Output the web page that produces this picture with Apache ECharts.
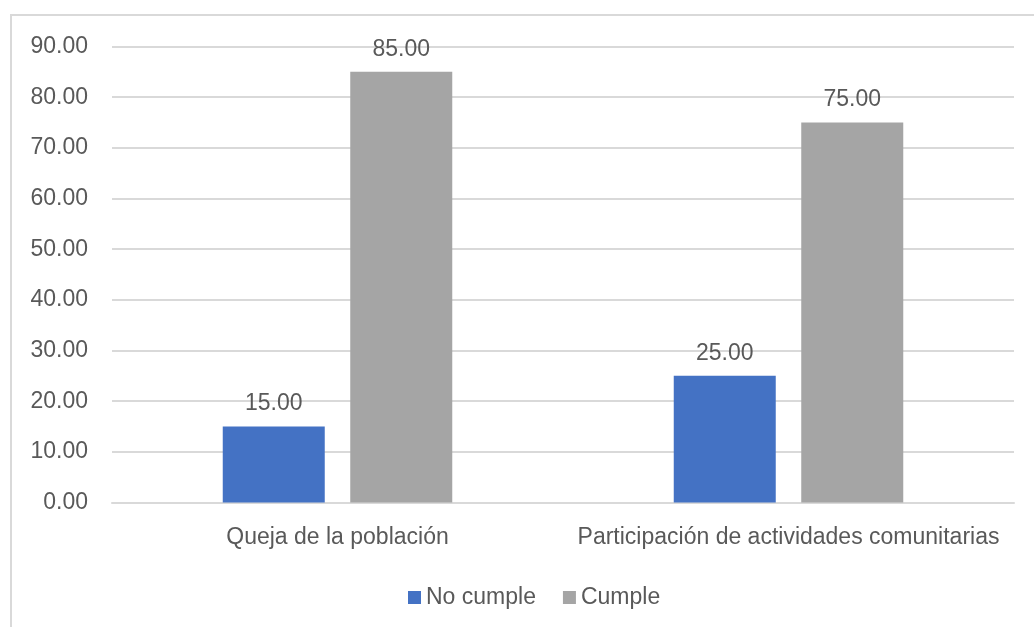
<!DOCTYPE html>
<html><head><meta charset="utf-8">
<script src="https://cdn.jsdelivr.net/npm/echarts@6/dist/echarts.min.js"></script>
<style>html,body{margin:0;padding:0;background:#fff}#c{width:1034px;height:627px}</style>
</head><body><div id="c"></div>
<script>
const categories = ["Queja de la población", "Participación de actividades comunitarias"];
const seriesNames = ["No cumple", "Cumple"];
const noCumple = [15, 25];
const cumple = [85, 75];
const yTicks = [0, 10, 20, 30, 40, 50, 60, 70, 80, 90];

const FONT = "Liberation Sans";
const TXT = "#595959";
const FS = 23;
const chart = echarts.init(document.getElementById('c'), null, {renderer: 'canvas'});
const labelCfg = {show: true, position: 'top', distance: 11, color: TXT, fontSize: FS, fontFamily: FONT,
  formatter: p => p.value.toFixed(2)};
chart.setOption({
  animation: false,
  graphic: [{type: 'rect', shape: {x: 11, y: 15, width: 1100, height: 700},
    style: {fill: 'none', stroke: '#D9D9D9', lineWidth: 2}, z: -1}],
  grid: {left: 112, right: 20, top: 46.5, height: 456, containLabel: false},
  legend: {data: seriesNames, left: 403, top: 581, itemWidth: 13, itemHeight: 13, itemGap: 27,
    icon: 'rect', textStyle: {color: TXT, fontSize: FS, fontFamily: FONT, padding: [0,0,0,0]}},
  xAxis: {type: 'category', data: categories,
    axisLine: {show: true, lineStyle: {color: '#D9D9D9', width: 2}}, axisTick: {show: false},
    axisLabel: {color: TXT, fontSize: FS, fontFamily: FONT, margin: 24, interval: 0}},
  yAxis: {type: 'value', min: yTicks[0], max: yTicks[yTicks.length-1], interval: 10,
    axisLine: {show: false}, axisTick: {show: false},
    splitLine: {lineStyle: {color: '#D9D9D9', width: 2}},
    axisLabel: {color: TXT, fontSize: FS, fontFamily: FONT, margin: 24, formatter: v => v.toFixed(2)}},
  series: [
    {name: seriesNames[0], type: 'bar', data: noCumple, barWidth: 102, barGap: '25%',
      itemStyle: {color: '#4472C4'}, label: labelCfg},
    {name: seriesNames[1], type: 'bar', data: cumple, barWidth: 102,
      itemStyle: {color: '#A5A5A5'}, label: labelCfg}
  ]
});
</script></body></html>
